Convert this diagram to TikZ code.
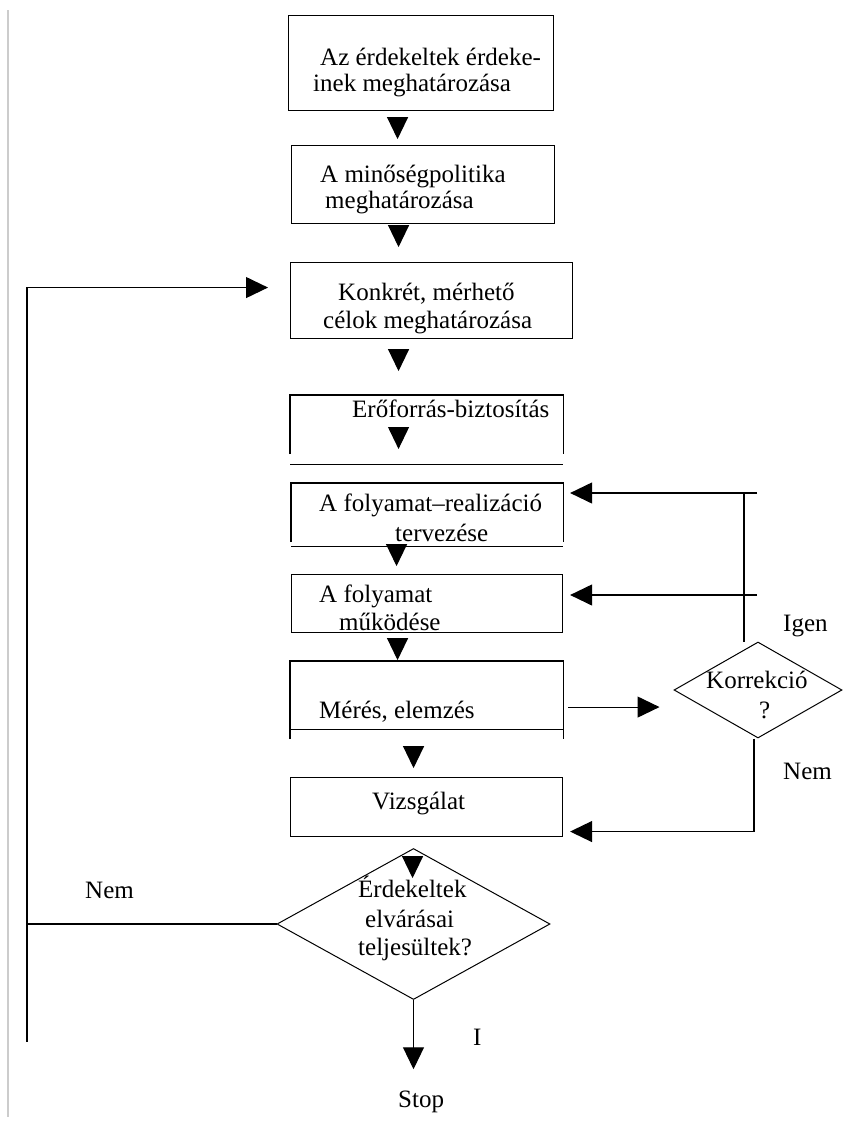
\documentclass[tikz,border=0pt]{standalone}
\usepackage{fontspec}
\setmainfont{Liberation Serif}
\usetikzlibrary{arrows.meta,shapes.geometric}

\begin{document}
\begin{tikzpicture}[x=1pt,y=-1pt,line join=miter,font=\fontsize{25}{29}\selectfont,
	box/.style={draw,line width=1.1pt,inner sep=0pt,anchor=north west},
	openbox/.style={box,draw=none},
	ln/.style={line width=1.1pt},
	lbl/.style={anchor=base west,inner sep=0pt},
	dia/.style={diamond,draw,line width=1pt,inner sep=0pt},
	tip/.style={-{Triangle[length=22pt,width=21pt]},line width=1.1pt}]
	\useasboundingbox (0,0) rectangle (848,1122);
	\draw[black!20,line width=1.5pt] (8,10)--(8,1117);
	% boxes
	\node[box,minimum width=265pt,minimum height=95pt] (b1) at (288,15) {};
	\node[box,minimum width=263pt,minimum height=78pt] (b2) at (291,145) {};
	\node[box,minimum width=282pt,minimum height=76pt] (b3) at (290,262) {};
	\node[openbox,minimum width=272pt,minimum height=58pt] (b4) at (290,395) {};
	\node[openbox,minimum width=271pt,minimum height=58pt] (b5) at (291,483) {};
	\node[box,minimum width=271pt,minimum height=58pt] (b6) at (291,574) {};
	\node[openbox,minimum width=272pt,minimum height=77pt] (b7) at (290,661) {};
	\node[box,minimum width=272pt,minimum height=59pt] (b8) at (290,777) {};
	\draw[ln] (b4.south west)--(b4.north west)--(b4.north east)--(b4.south east);
	\draw[ln] ([yshift=-10pt]b4.south west)--([yshift=-10pt]b4.south east);
	\draw[ln] (b5.south west)--(b5.north west)--(b5.north east)--(b5.south east);
	\draw[ln] ([yshift=-4pt]b5.south west)--([yshift=-4pt]b5.south east);
	\draw[ln] (b7.south west)--(b7.north west)--(b7.north east)--(b7.south east);
	\draw[ln] ([yshift=10pt]b7.south west)--([yshift=10pt]b7.south east);
	\node[dia,minimum width=273pt,minimum height=151pt] (erd) at (413.5,924) {};
	\node[dia,minimum width=168pt,minimum height=96pt] (kor) at (758,690) {};
	% texts
	\node[lbl] (t1a) at (320,65) {Az érdekeltek érdeke-};
	\node[lbl] (t1b) at (313,91) {inek meghatározása};
	\node[lbl] (t2a) at (320,182) {A minőségpolitika};
	\node[lbl] (t2b) at (325,208) {meghatározása};
	\node[lbl] (t3a) at (338,300) {Konkrét, mérhető};
	\node[lbl] (t3b) at (323,328) {célok meghatározása};
	\node[lbl] (t4) at (352,417) {Erőforrás-biztosítás};
	\node[lbl] (t5a) at (319,511) {A folyamat–realizáció};
	\node[lbl] (t5b) at (395,541) {tervezése};
	\node[lbl] (t6a) at (319,602) {A folyamat};
	\node[lbl] (t6b) at (339,630) {működése};
	\node[lbl] (t7) at (319,718) {Mérés, elemzés};
	\node[lbl] (t8) at (372,809) {Vizsgálat};
	\node[lbl] (e1) at (358,897) {Érdekeltek};
	\node[lbl] (e2) at (365,927) {elvárásai};
	\node[lbl] (e3) at (358,955) {teljesültek?};
	\node[lbl] (k1) at (706,688) {Korrekció};
	\node[lbl] (k2) at (759,718) {?};
	\node[lbl] (stop) at (398,1107) {Stop};
	\node[lbl] (igen) at (783,631) {Igen};
	\node[lbl] (nem1) at (783,779) {Nem};
	\node[lbl] (nem2) at (85,898) {Nem};
	\node[lbl] (ig) at (473,1045) {I};
	% heads between the boxes
	\draw[tip] (b1.south) ++(-23.5,6) -- ++(0,22);
	\draw[tip] (b2.south) ++(-24.5,1) -- ++(0,22);
	\draw[tip] (b3.south) ++(-33,10) -- ++(0,22);
	\draw[tip] (b4.north) ++(-28,32) -- ++(0,22);
	\draw[tip] (b5.south) ++(-30.5,2) -- ++(0,22);
	\draw[tip] (b6.south) ++(-29.5,5) -- ++(0,22);
	\draw[tip] (b7.south) ++(-13,7) -- ++(0,22);
	\draw[tip] (b8.south) ++(-14,19) -- ++(0,22);
	% loops
	\coordinate (lc) at (27,924);
	\coordinate (lb) at (27,1042);
	\draw[tip,shorten >=22pt] (erd.west) -- (lc) |- ([yshift=13pt]b3.west);
	\draw[ln] (lc) -- (lb);
	\draw[tip,shorten >=21pt] (erd.south) -- (erd.south |- stop.north);
	\coordinate (m) at ([yshift=-7pt]b7.east);
	\draw[tip,shorten <=5pt,shorten >=14pt] (m) -- (m -| kor.west);
	\coordinate (kt) at ([xshift=-14pt]kor.north);
	\coordinate (r1) at (757,493);
	\coordinate (r2) at (757,595);
	\draw[ln] (kt) -- (kt |- r1);
	\draw[tip,shorten >=7pt] (r1) -- (r1 -| b5.east);
	\draw[tip,shorten >=7pt] (r2) -- (r2 -| b6.east);
	\draw[tip,shorten >=7pt] ([xshift=-4pt]kor.south) |- ([yshift=-24.5pt]b8.east);
\end{tikzpicture}
\end{document}
